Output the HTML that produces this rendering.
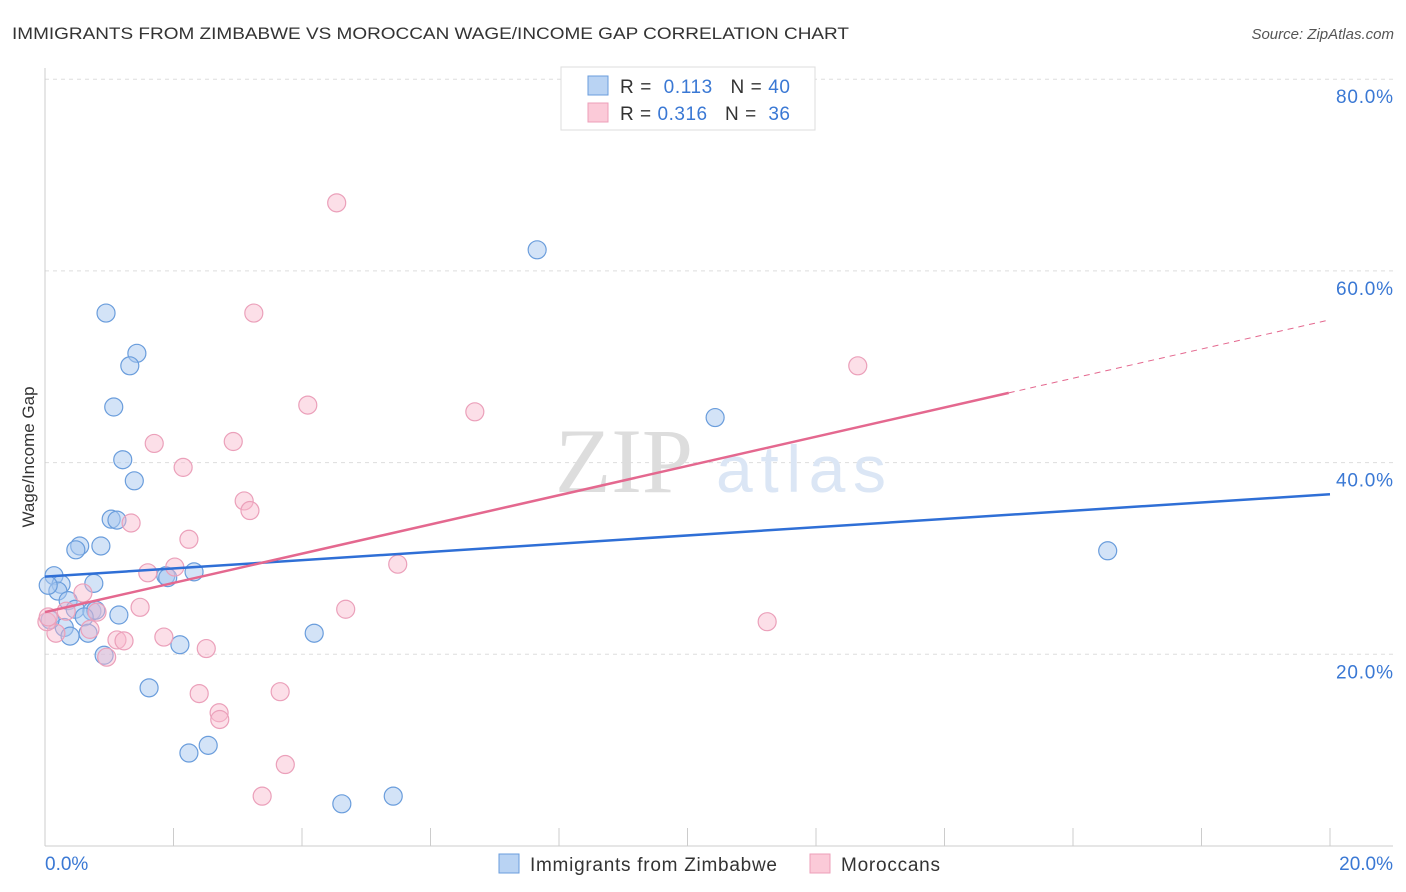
<!DOCTYPE html>
<html><head><meta charset="utf-8"><style>
body{margin:0;background:#fff;font-family:"Liberation Sans",sans-serif}
svg{display:block}
</style></head><body>
<svg width="1406" height="892" xmlns="http://www.w3.org/2000/svg">
<text x="12" y="39" font-size="17" fill="#333" textLength="837" lengthAdjust="spacingAndGlyphs">IMMIGRANTS FROM ZIMBABWE VS MOROCCAN WAGE/INCOME GAP CORRELATION CHART</text>
<text x="1394" y="39" font-size="15" fill="#555" font-style="italic" text-anchor="end">Source: ZipAtlas.com</text>
<g id="grid"></g>
<text x="555" y="492" font-size="92" fill="#ddd" font-family="Liberation Serif">ZIP</text>
<text x="716" y="492" font-size="66" fill="#dbe6f5" textLength="170">atlas</text>
<text transform="translate(34,457) rotate(-90)" font-size="17" fill="#333" text-anchor="middle">Wage/Income Gap</text>
<g id="marks"></g>
<g>
<rect x="561" y="67" width="254" height="63" fill="#fff" stroke="#ddd"/>
<rect x="588" y="76" width="20" height="19" fill="#b9d3f3" stroke="#6a9ddc"/>
<rect x="588" y="103" width="20" height="19" fill="#fbcad8" stroke="#ec9fb9"/>
<text x="620" y="93" font-size="19" fill="#333" textLength="170">R = <tspan fill="#3a78d4">&#160;0.113</tspan>&#160;&#160;&#160;N = <tspan fill="#3a78d4">40</tspan></text>
<text x="620" y="120" font-size="19" fill="#333" textLength="170">R = <tspan fill="#3a78d4">0.316</tspan>&#160;&#160;&#160;N = <tspan fill="#3a78d4">&#160;36</tspan></text>
</g>
<g>
<rect x="499" y="854" width="20" height="19" fill="#b9d3f3" stroke="#6a9ddc"/>
<text x="530" y="871" font-size="19" fill="#333" textLength="247">Immigrants from Zimbabwe</text>
<rect x="810" y="854" width="20" height="19" fill="#fbcad8" stroke="#ec9fb9"/>
<text x="841" y="871" font-size="19" fill="#333" textLength="99">Moroccans</text>
</g>
</svg>
<script>
const yTicks=[20,40,60,80];
const yTickLabels=["20.0%","40.0%","60.0%","80.0%"];
const xTicks=[2,4,6,8,10,12,14,16,18,20];
const blueX=[0.95,1.43,1.32,1.07,1.21,1.39,1.03,1.12,0.54,0.48,0.87,0.14,0.25,0.76,0.20,0.36,0.47,0.73,0.79,0.61,1.15,0.30,0.39,0.67,1.88,1.91,2.32,0.92,1.62,2.10,4.19,2.54,2.24,4.62,5.42,7.66,10.43,16.54,0.08,0.05];
const blueY=[55.6,51.4,50.1,45.8,40.3,38.1,34.1,34.0,31.3,30.9,31.3,28.2,27.3,27.4,26.6,25.6,24.7,24.5,24.6,23.9,24.1,22.8,21.9,22.2,28.2,28.0,28.6,19.9,16.5,21.0,22.2,10.5,9.7,4.4,5.2,62.2,44.7,30.8,23.6,27.2];
const pinkX=[4.54,3.25,12.65,4.09,6.69,2.93,1.70,2.15,3.10,3.19,1.34,2.24,2.02,1.60,5.49,0.59,0.33,0.81,1.48,4.68,0.70,0.17,0.03,1.12,1.23,1.85,2.51,0.96,2.40,3.66,2.71,2.72,11.24,3.74,3.38,0.05];
const pinkY=[67.1,55.6,50.1,46.0,45.3,42.2,42.0,39.5,36.0,35.0,33.7,32.0,29.1,28.5,29.4,26.4,24.5,24.4,24.9,24.7,22.6,22.2,23.4,21.5,21.4,21.8,20.6,19.7,15.9,16.1,13.9,13.2,23.4,8.5,5.2,23.9];
const blueTrend=[28.1,36.7];
const pinkTrend=[24.4,54.9];
const pinkSolidEnd=15.0;
const NS="http://www.w3.org/2000/svg";
const xs=v=>45+v*64.25, ys=v=>846-v*9.585;
function mk(tag,attrs,parent){const e=document.createElementNS(NS,tag);for(const k in attrs)e.setAttribute(k,attrs[k]);parent.appendChild(e);return e;}
const grid=document.getElementById('grid'), marks=document.getElementById('marks');
yTicks.forEach((t,i)=>{
 const l=mk('line',{x1:45,x2:1393,y1:ys(t),y2:ys(t),stroke:'#ddd','stroke-dasharray':'4,4'},grid);
 
 
 const tx=mk('text',{x:1393,y:ys(t)+24,'font-size':19,fill:'#3a78d4','text-anchor':'end',textLength:57},grid);
 tx.textContent=yTickLabels[i];
 
 
});
const ax=mk('line',{x1:45,x2:1393,y1:846,y2:846,stroke:'#ccc'},grid);


const ay=mk('line',{x1:45,x2:45,y1:68,y2:846,stroke:'#ccc'},grid);


xTicks.forEach(t=>{
 const l=mk('line',{x1:xs(t),x2:xs(t),y1:828,y2:846,stroke:'#ccc'},grid);
 
 
});
const x0=mk('text',{x:45,y:870,'font-size':19,fill:'#3a78d4'},grid);x0.textContent='0.0%';


const x1=mk('text',{x:1393,y:870,'font-size':19,fill:'#3a78d4','text-anchor':'end'},grid);x1.textContent='20.0%';


blueX.forEach((x,i)=>{
 const c=mk('circle',{cx:xs(x),cy:ys(blueY[i]),r:9,fill:'rgba(168,200,240,0.5)',stroke:'#6a9ddc','stroke-width':1.2},marks);
 
 
});
pinkX.forEach((x,i)=>{
 const c=mk('circle',{cx:xs(x),cy:ys(pinkY[i]),r:9,fill:'rgba(248,185,205,0.45)',stroke:'#eba0ba','stroke-width':1.2},marks);
 
 
});
const pAt=x=>pinkTrend[0]+(pinkTrend[1]-pinkTrend[0])*x/20;
const bl=mk('line',{x1:xs(0),y1:ys(blueTrend[0]),x2:xs(20),y2:ys(blueTrend[1]),stroke:'#2f6fd6','stroke-width':2.5},marks);


const pl=mk('line',{x1:xs(0),y1:ys(pAt(0)),x2:xs(pinkSolidEnd),y2:ys(pAt(pinkSolidEnd)),stroke:'#e4688f','stroke-width':2.5},marks);


const pd=mk('line',{x1:xs(pinkSolidEnd),y1:ys(pAt(pinkSolidEnd)),x2:xs(20),y2:ys(pAt(20)),stroke:'#e4688f','stroke-width':1,'stroke-dasharray':'6,5'},marks);


</script>
</body></html>
